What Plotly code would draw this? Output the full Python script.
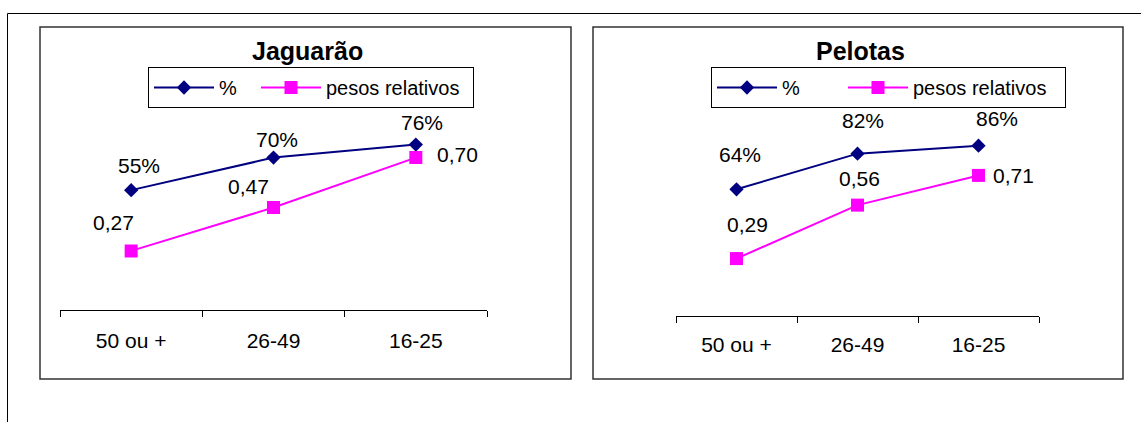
import plotly.graph_objects as go

# Age groups on the category axis
categories = ["50 ou +", "26-49", "16-25"]

# Jaguarão
jag_pct = [55, 70, 76]
jag_pesos = [0.27, 0.47, 0.70]

# Pelotas
pel_pct = [64, 82, 86]
pel_pesos = [0.29, 0.56, 0.71]

W, H = 1141, 422
FONT = "Liberation Sans, Arial, sans-serif"
NAVY = "#000080"
MAGENTA = "#FF00FF"


def px_x(p):
    return p / W


def px_y(p):
    return 1 - p / H


def br(v):
    return f"{v:.2f}".replace(".", ",")


fig = go.Figure()

panels = [
    dict(name="Jaguarão", pct=jag_pct, pesos=jag_pesos, xa="x", ya="y", legend="legend",
         lw=(32, 142),
         pct_off=[(8, -25), (3, -18), (6, -22)],
         pesos_off=[(-18, -28), (-25, -21), (42, -3)]),
    dict(name="Pelotas", pct=pel_pct, pesos=pel_pesos, xa="x2", ya="y2", legend="legend2",
         lw=(56, 147),
         pct_off=[(3, -35), (5, -33), (18, -27)],
         pesos_off=[(11, -34), (2, -27), (35, 0)]),
]

annotations = []
for p in panels:
    fig.add_trace(go.Scatter(
        x=categories, y=[v / 100 for v in p["pct"]], name="%",
        mode="lines+markers", xaxis=p["xa"], yaxis=p["ya"], legend=p["legend"],
        legendwidth=p["lw"][0],
        line=dict(color=NAVY, width=2),
        marker=dict(symbol="diamond", size=11, color=NAVY),
        hoverinfo="skip",
    ))
    fig.add_trace(go.Scatter(
        x=categories, y=p["pesos"], name="pesos relativos",
        mode="lines+markers", xaxis=p["xa"], yaxis=p["ya"], legend=p["legend"],
        legendwidth=p["lw"][1],
        line=dict(color=MAGENTA, width=2),
        marker=dict(symbol="square", size=13, color=MAGENTA),
        hoverinfo="skip",
    ))
    for c, v, (dx, dy) in zip(categories, p["pct"], p["pct_off"]):
        annotations.append(dict(
            x=c, y=v / 100, xref=p["xa"], yref=p["ya"], text=f"{v}%",
            showarrow=False, xanchor="center", yanchor="middle",
            xshift=dx, yshift=-dy, font=dict(family=FONT, size=21, color="black")))
    for c, v, (dx, dy) in zip(categories, p["pesos"], p["pesos_off"]):
        annotations.append(dict(
            x=c, y=v, xref=p["xa"], yref=p["ya"], text=br(v),
            showarrow=False, xanchor="center", yanchor="middle",
            xshift=dx, yshift=-dy, font=dict(family=FONT, size=21, color="black")))

# Panel titles
for title, cx in [("Jaguarão", 307), ("Pelotas", 860)]:
    annotations.append(dict(
        x=px_x(cx), y=px_y(51), xref="paper", yref="paper", text=f"<b>{title}</b>",
        showarrow=False, xanchor="center", yanchor="middle",
        font=dict(family=FONT, size=25, color="black")))

axis_common = dict(
    type="category", categoryorder="array", categoryarray=categories,
    range=[-0.5, 2.5], tickson="boundaries", ticks="outside", ticklen=6,
    tickcolor="black", tickwidth=1, showline=True, linecolor="black", linewidth=1,
    showgrid=False, zeroline=False, fixedrange=True,
    tickfont=dict(family=FONT, size=21, color="black"),
)
yaxis_common = dict(range=[0, 1], visible=False, fixedrange=True)

legend_common = dict(
    orientation="h", xanchor="left", yanchor="top",
    bordercolor="black", borderwidth=1, bgcolor="white",
    font=dict(family=FONT, size=20, color="black"),
    itemwidth=60, itemclick=False, itemdoubleclick=False,
)

shapes = [
    # outer frame
    dict(type="line", xref="paper", yref="paper", x0=px_x(7.5), x1=1, y0=px_y(13.5), y1=px_y(13.5),
         line=dict(color="black", width=1)),
    dict(type="line", xref="paper", yref="paper", x0=px_x(7.5), x1=px_x(7.5), y0=px_y(13.5), y1=0,
         line=dict(color="black", width=1)),
    # panel boxes
    dict(type="rect", xref="paper", yref="paper", x0=px_x(40), x1=px_x(571), y0=px_y(379), y1=px_y(27),
         line=dict(color="#333333", width=1.5)),
    dict(type="rect", xref="paper", yref="paper", x0=px_x(593), x1=px_x(1123), y0=px_y(379), y1=px_y(27),
         line=dict(color="#333333", width=1.5)),
]

fig.update_layout(
    width=W, height=H, autosize=False,
    margin=dict(l=0, r=0, t=0, b=0),
    paper_bgcolor="white", plot_bgcolor="rgba(0,0,0,0)",
    xaxis=dict(domain=[px_x(60), px_x(487)], anchor="y", ticklabelstandoff=12, **axis_common),
    yaxis=dict(domain=[px_y(309.5), px_y(92.5)], anchor="x", **yaxis_common),
    xaxis2=dict(domain=[px_x(676), px_x(1039)], anchor="y2", ticklabelstandoff=10, **axis_common),
    yaxis2=dict(domain=[px_y(316), px_y(118)], anchor="x2", **yaxis_common),
    legend=dict(x=px_x(148), y=px_y(67), **legend_common),
    legend2=dict(x=px_x(711), y=px_y(67), **legend_common),
    annotations=annotations,
    shapes=shapes,
    showlegend=True,
)

fig.write_html("out.html", config=dict(displayModeBar=False, staticPlot=True))
